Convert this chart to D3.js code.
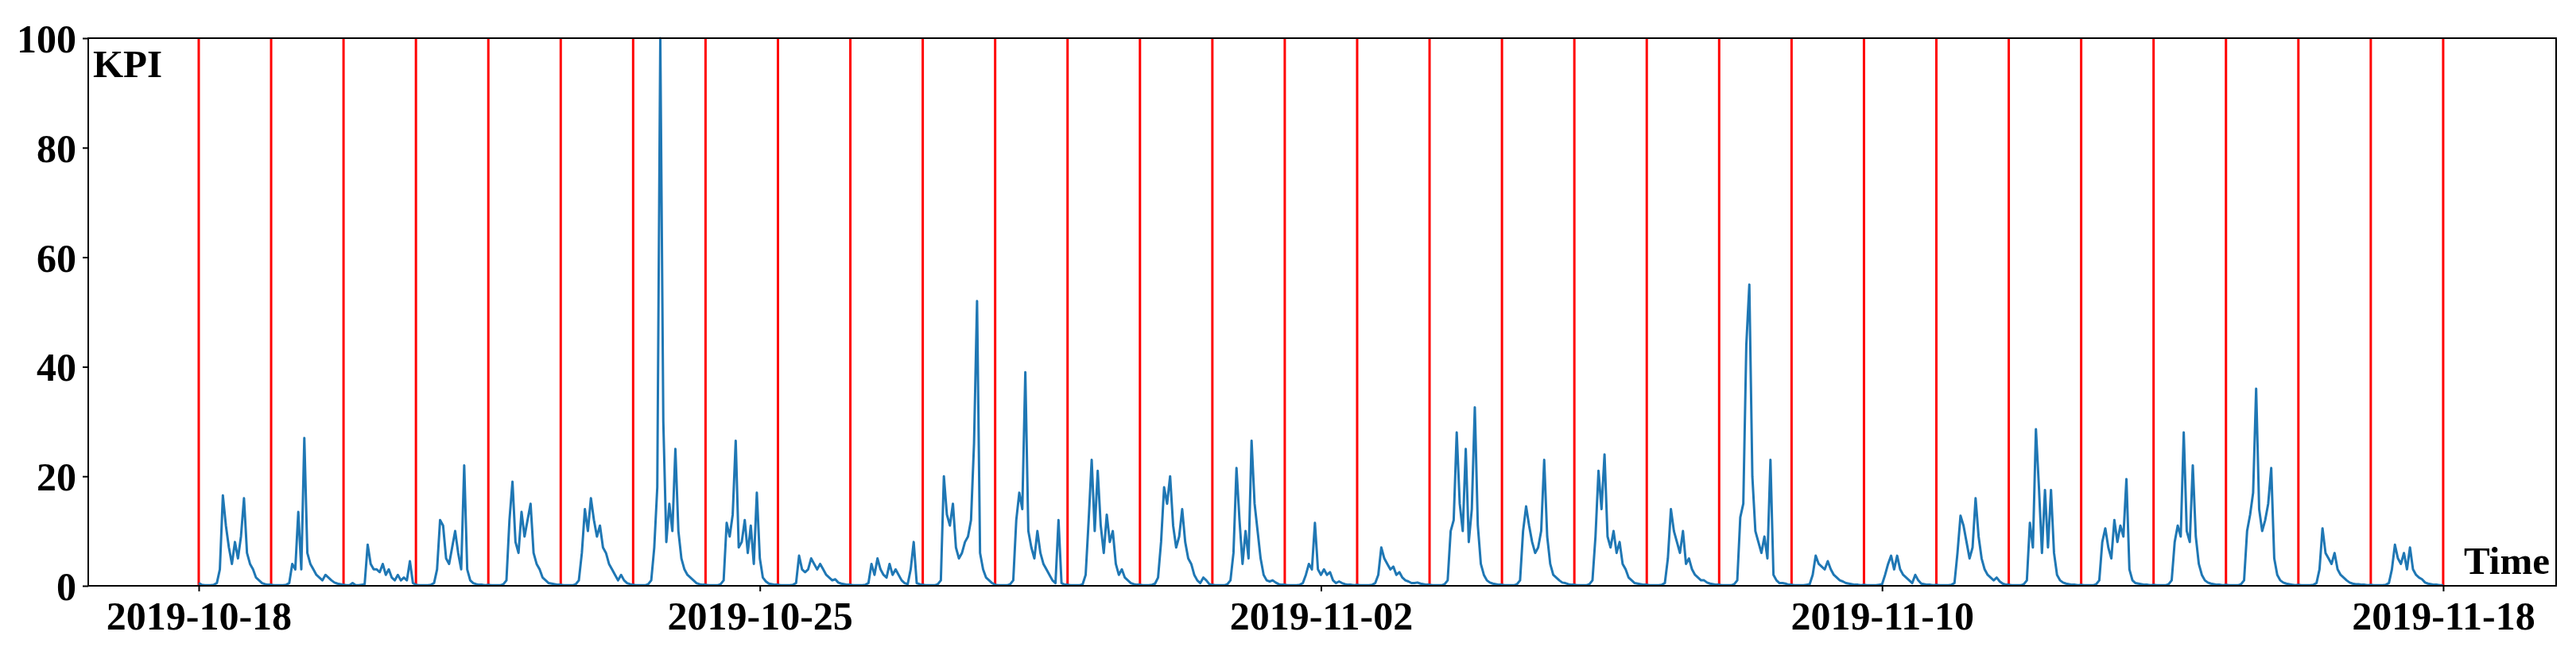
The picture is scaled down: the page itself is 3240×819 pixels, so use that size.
<!DOCTYPE html>
<html><head><meta charset="utf-8">
<script src="https://cdn.jsdelivr.net/npm/d3@7"></script>
<style>body{margin:0;background:#fff}svg{display:block}text{font-family:"Liberation Serif","Times New Roman",serif;font-weight:bold}</style>
</head><body><svg id="c" width="3240" height="819"></svg>
<script>
// Hourly KPI values, one array per day
const day01=[0.5,0.2,0.1,0.1,0.1,0.2,0.5,3,16.5,11,7,4,8,5,9,16,6,4,3,1.5,1,0.5,0.3,0.2];
const day02=[0.2,0.1,0.1,0.1,0.1,0.2,0.5,4,3,13.5,3,27,6,4,3,2,1.5,1,2,1.5,1,0.6,0.4,0.3];
const day03=[0.2,0.1,0.1,0.5,0.1,0.1,0.2,0.3,7.5,4,3,3,2.5,4,2,3,1.5,1,2,1,1.5,1,4.5,0.5];
const day04=[0.2,0.1,0.1,0.1,0.1,0.2,0.5,3,12,11,5,4,7,10,6,3,22,3,1,0.5,0.3,0.2,0.2,0.1];
const day05=[0.2,0.1,0.1,0.1,0.1,0.3,1,12,19,8,6,13.5,9,12,15,6,4,3,1.5,1,0.5,0.4,0.3,0.2];
const day06=[0.2,0.1,0.1,0.1,0.1,0.3,1,6,14,10,16,12,9,11,7,6,4,3,2,1,2,1,0.5,0.3];
const day07=[0.2,0.1,0.1,0.1,0.1,0.3,1,7,18,100,30,8,15,10,25,10,5,3,2,1.5,1,0.5,0.3,0.2];
const day08=[0.2,0.1,0.1,0.1,0.1,0.3,1,11.5,9,13,26.5,7,8,12,6,11,4,17,5,1.5,0.8,0.4,0.3,0.2];
const day09=[0.2,0.1,0.1,0.1,0.1,0.2,0.5,5.5,3,2.5,3,5,4,3,4,3,2,1.5,1,1.2,0.6,0.4,0.3,0.2];
const day10=[0.2,0.1,0.1,0.1,0.1,0.2,0.5,4,2,5,3,2,1.5,4,2,3,2,1,0.5,0.3,3,8,0.5,0.3];
const day11=[0.2,0.1,0.1,0.1,0.1,0.3,1,20,13,11,15,7,5,6,8,9,12,26,52,6,3,1.5,1,0.5];
const day12=[0.2,0.1,0.1,0.1,0.1,0.3,1,12,17,14,39,10,7,5,10,6,4,3,2,1,0.5,12,0.5,0.2];
const day13=[0.2,0.1,0.1,0.1,0.1,0.3,2,12,23,10,21,11,6,13,8,10,4,2,3,1.5,1,0.5,0.3,0.2];
const day14=[0.2,0.1,0.1,0.1,0.2,0.4,1.5,8,18,15,20,11,7,9,14,8,5,4,2,1,0.5,1.5,1,0.3];
const day15=[0.2,0.1,0.1,0.1,0.1,0.3,1,6,21.5,12,4,10,5,26.5,15,10,5,2,1,0.8,1,0.6,0.3,0.2];
const day16=[0.2,0.1,0.1,0.1,0.1,0.2,0.5,2,4,3,11.5,3,2,3,2,2.5,1,0.5,0.8,0.5,0.3,0.2,0.2,0.1];
const day17=[0.2,0.1,0.1,0.1,0.1,0.2,0.5,2,7,5,4,3,3.5,2,2.5,1.5,1,0.8,0.5,0.5,0.6,0.4,0.3,0.2];
const day18=[0.2,0.1,0.1,0.1,0.1,0.3,1,10,12,28,15,10,25,8,14,32.6,11,4,2,1,0.6,0.4,0.3,0.2];
const day19=[0.2,0.1,0.1,0.1,0.1,0.3,1,10,14.5,11,8,6,7,10,23,9,4,2,1.5,1,0.6,0.5,0.3,0.2];
const day20=[0.2,0.1,0.1,0.1,0.1,0.3,1,9,21,14,24,9,7,10,6,8,4,3,1.5,1,0.5,0.4,0.3,0.2];
const day21=[0.2,0.1,0.1,0.1,0.1,0.2,0.5,5,14,10,8,6,10,4,5,3,2,1.5,1,1,0.6,0.4,0.3,0.2];
const day22=[0.2,0.1,0.1,0.1,0.1,0.3,1,12.5,15,44,55,20,10,8,6,9,5,23,2,1,0.5,0.5,0.4,0.2];
const day23=[0.2,0.1,0.1,0.1,0.1,0.2,0.3,2,5.5,4,3.5,3,4.5,3,2,1.5,1,0.8,0.5,0.4,0.3,0.2,0.2,0.1];
const day24=[0.2,0.1,0.1,0.1,0.1,0.2,0.3,2,4,5.5,3,5.5,3,2,1.5,1,0.5,2,1,0.4,0.3,0.2,0.2,0.1];
const day25=[0.2,0.1,0.1,0.1,0.1,0.2,0.5,6,12.8,11,8,5,7,16,9,5,3,2,1.5,1,1.5,0.8,0.4,0.2];
const day26=[0.2,0.1,0.1,0.1,0.1,0.3,1,11.5,7,28.6,18,6,17.5,7,17.5,6,2,1,0.6,0.4,0.3,0.2,0.2,0.1];
const day27=[0.2,0.1,0.1,0.1,0.1,0.3,1,8,10.5,7,5,12,8,11,9,19.5,3,1,0.5,0.4,0.3,0.2,0.2,0.1];
const day28=[0.2,0.1,0.1,0.1,0.1,0.3,1,8,11,9,28,10,8,22,9,4,2,1,0.6,0.4,0.3,0.2,0.2,0.1];
const day29=[0.2,0.1,0.1,0.1,0.1,0.3,1,10,13,17,36,14,10,12,15,21.5,5,2,1,0.6,0.4,0.3,0.2,0.1];
const day30=[0.2,0.1,0.1,0.1,0.1,0.2,0.5,3,10.5,6,5,4,6,3,2,1.5,1,0.6,0.4,0.3,0.3,0.2,0.2,0.1];
const day31=[0.2,0.1,0.1,0.1,0.1,0.2,0.5,3,7.5,5,4,6,3,7,3,2,1.5,1.2,0.6,0.4,0.3,0.2,0.2,0.1];
const xTickLabels=["2019-10-18","2019-10-25","2019-11-02","2019-11-10","2019-11-18"];
const xTickPos=[0,7.75,15.5,23.25,31];   // in day units
const yTicks=[0,20,40,60,80,100];
const dayBoundaries=d3.range(0,32);

const days=[day01,day02,day03,day04,day05,day06,day07,day08,day09,day10,day11,day12,day13,day14,day15,day16,day17,day18,day19,day20,day21,day22,day23,day24,day25,day26,day27,day28,day29,day30,day31];
const series=[];
days.forEach((arr,d)=>arr.forEach((v,h)=>series.push([d+h/24,v])));
series.push([31,0.1]);

const L=111,R=3215,T=48,B=737;
const x=d3.scaleLinear().domain([-1.526,32.56]).range([L,R]);
const y=d3.scaleLinear().domain([0,100]).range([B,T]);
const svg=d3.select("#c");

svg.selectAll(".rl").data(dayBoundaries).enter().append("line")
 .attr("x1",d=>x(d)).attr("x2",d=>x(d)).attr("y1",T).attr("y2",B)
 .attr("stroke","#ff0000").attr("stroke-width",3);

svg.append("path").datum(series)
 .attr("d",d3.line().x(d=>x(d[0])).y(d=>y(d[1])))
 .attr("fill","none").attr("stroke","#1f77b4").attr("stroke-width",3).attr("stroke-linejoin","round");

svg.append("rect").attr("x",L).attr("y",T).attr("width",R-L).attr("height",B-T)
 .attr("fill","none").attr("stroke","#000").attr("stroke-width",2);

const ya=svg.append("g").attr("transform",`translate(${L},0)`)
 .call(d3.axisLeft(y).tickValues(yTicks).tickSize(7).tickPadding(8));
const xa=svg.append("g").attr("transform",`translate(0,${B})`)
 .call(d3.axisBottom(x).tickValues(xTickPos).tickFormat((d,i)=>xTickLabels[i]).tickSize(7).tickPadding(12));
[ya,xa].forEach(g=>{g.select(".domain").remove();g.selectAll("line").attr("stroke","#000").attr("stroke-width",2);
 g.selectAll("text").attr("font-size",50).attr("fill","#000").style("font-family","Liberation Serif").style("font-weight","bold");});
ya.selectAll("text").attr("dy","0.35em");

svg.append("text").attr("x",117).attr("y",97).attr("font-size",49).text("KPI");
svg.append("text").attr("x",3207).attr("y",722).attr("font-size",49).attr("text-anchor","end").text("Time");
</script></body></html>
